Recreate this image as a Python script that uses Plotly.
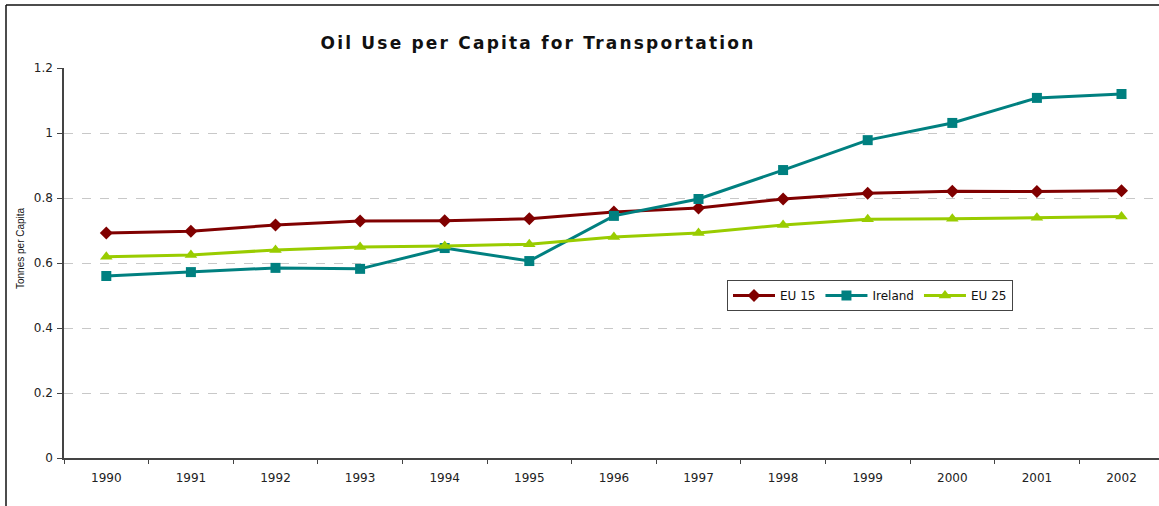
import plotly.graph_objects as go

years = [1990, 1991, 1992, 1993, 1994, 1995, 1996, 1997, 1998, 1999, 2000, 2001, 2002]
eu15 = [0.692, 0.698, 0.717, 0.729, 0.730, 0.736, 0.757, 0.769, 0.797, 0.815, 0.821, 0.820, 0.822]
ireland = [0.560, 0.572, 0.585, 0.582, 0.646, 0.606, 0.745, 0.797, 0.886, 0.978, 1.031, 1.108, 1.120]
eu25 = [0.619, 0.625, 0.640, 0.649, 0.652, 0.658, 0.680, 0.692, 0.717, 0.735, 0.736, 0.739, 0.743]

W, H = 1159, 506
L, T, B, R = 64, 68, 48, 0
pw = W - L - R
ph = H - T - B

fig = go.Figure()
fig.add_trace(go.Scatter(x=years, y=eu15, name="EU 15", mode="lines+markers",
                         line=dict(color="#800000", width=3),
                         marker=dict(symbol="diamond", size=10, color="#800000")))
fig.add_trace(go.Scatter(x=years, y=ireland, name="Ireland", mode="lines+markers",
                         line=dict(color="#008080", width=3),
                         marker=dict(symbol="square", size=10, color="#008080")))
fig.add_trace(go.Scatter(x=years, y=eu25, name="EU 25", mode="lines+markers",
                         line=dict(color="#99CC00", width=3),
                         marker=dict(symbol="triangle-up", size=11, color="#99CC00")))

fig.update_layout(
    width=W, height=H,
    margin=dict(l=L, r=R, t=T, b=B, pad=0),
    paper_bgcolor="white", plot_bgcolor="white",
    font=dict(family="DejaVu Sans", size=12, color="#222"),
    title=dict(text="<b>Oil Use per Capita for Transportation</b>",
               x=538 / W, xanchor="center", y=1 - 43 / H, yanchor="middle",
               font=dict(family="DejaVu Sans", size=17, color="#111")),
    legend=dict(orientation="h", x=(727 - L) / pw, xanchor="left",
                y=(H - B - 280) / ph, yanchor="top",
                bordercolor="#444", borderwidth=1, bgcolor="white",
                font=dict(family="DejaVu Sans", size=12, color="#111"),
                itemwidth=42, tracegroupgap=0),
    showlegend=True,
)

fig.update_xaxes(range=[1989.5, 1989.5 + pw / 84.6], tickmode="array", tickvals=years,
                 ticktext=[str(y) for y in years], ticks="", showgrid=False,
                 showline=True, linecolor="#444", linewidth=1.5, zeroline=False,
                 ticklabelstandoff=8,
                 tickfont=dict(size=12, color="#222"),
                 minor=dict(tickmode="array", tickvals=[y - 0.5 for y in years],
                            ticks="outside", ticklen=4, tickcolor="#444", showgrid=False))
fig.update_yaxes(range=[0, 1.2], tickmode="array", tickvals=[0, 0.2, 0.4, 0.6, 0.8, 1, 1.2],
                 ticktext=["0", "0.2", "0.4", "0.6", "0.8", "1", "1.2"],
                 ticks="outside", ticklen=5, tickcolor="#444",
                 showline=True, linecolor="#444", linewidth=1.5, zeroline=False,
                 showgrid=True, gridcolor="#c8c8c8", griddash="dash", gridwidth=1,
                 ticklabelstandoff=2,
                 tickfont=dict(size=12, color="#222"))

fig.add_annotation(text="Tonnes per Capita", textangle=-90, showarrow=False,
                   xref="paper", yref="paper", x=(20 - L) / pw, y=(H - B - 248) / ph,
                   xanchor="center", yanchor="middle",
                   font=dict(family="Liberation Sans", size=10, color="#111"))

# frame border (top and left)
fig.add_shape(type="line", xref="paper", yref="paper",
              x0=(6 - L) / pw, x1=1.0, y0=(H - B - 5) / ph, y1=(H - B - 5) / ph,
              line=dict(color="#111", width=1.5))
fig.add_shape(type="line", xref="paper", yref="paper",
              x0=(6 - L) / pw, x1=(6 - L) / pw, y0=(H - B - 5) / ph, y1=-B / ph,
              line=dict(color="#111", width=1.5))

post = """
document.body.style.margin = '0';
document.body.style.padding = '0';
var t = document.querySelector('.gtitle');
if (t) { t.style.letterSpacing = '2.2px'; }
"""
fig.write_html("out.html", post_script=post, config={"displayModeBar": False})
